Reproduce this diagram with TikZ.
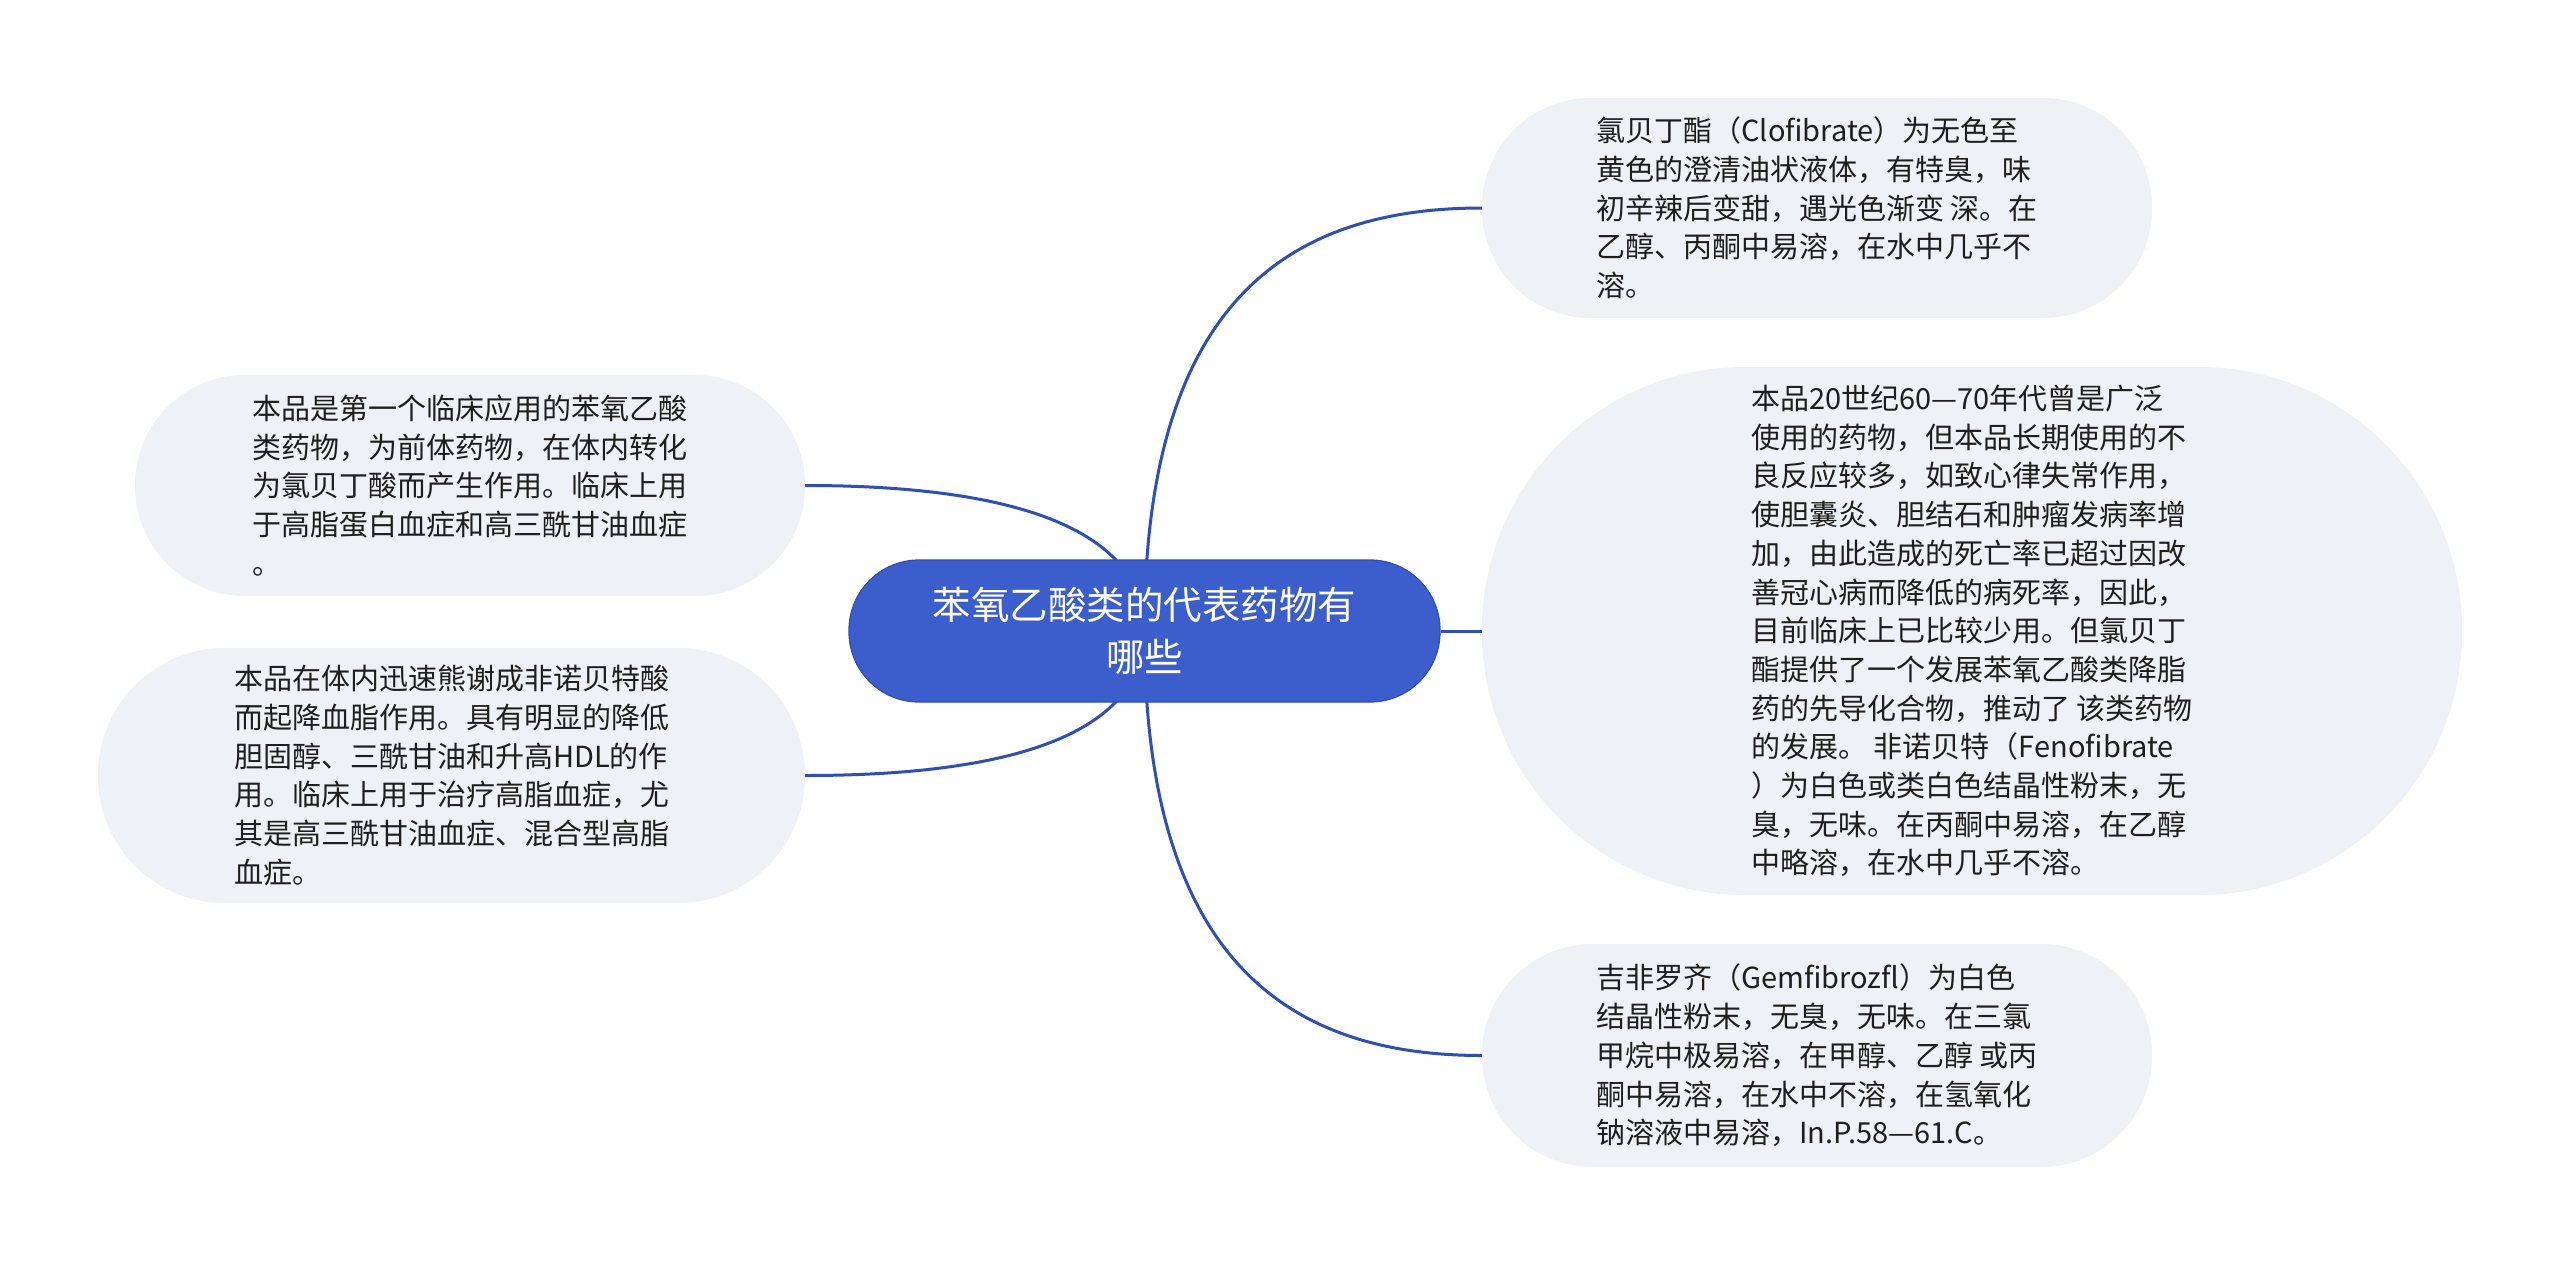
\documentclass[tikz,border=0pt]{standalone}
\usepackage{fontspec}
\newfontfamily\cjkfont{Noto Sans CJK SC}
\pgfdeclarelayer{bg}
\pgfdeclarelayer{lines}
\pgfsetlayers{bg,lines,main}
\definecolor{rootfill}{HTML}{3B5ECC}
\definecolor{rootdraw}{HTML}{2F4DB5}
\definecolor{linkcol}{HTML}{2F4FB3}
\definecolor{leaffill}{HTML}{EEF1F5}
\definecolor{leaftext}{HTML}{1E1E1E}
\begin{document}
\begin{tikzpicture}[x=1pt,y=-1pt,
  rootbox/.style={draw=rootdraw, line width=1.2pt, fill=rootfill, text=white,
    rounded corners=70pt, minimum width=591pt, minimum height=142pt,
    align=center, inner sep=0pt, font=\cjkfont\fontsize{38.5}{52}\selectfont},
  leafbox/.style={fill=leaffill, text=leaftext, align=left, inner sep=0pt,
    font=\cjkfont\fontsize{29}{38.7}\selectfont},
  link/.style={draw=linkcol, line width=3pt}]
\useasboundingbox (0,0) rectangle (2560,1264);
\begin{pgfonlayer}{bg}
\fill[white] (0,0) rectangle (2560,1264);
\end{pgfonlayer}

\node[rootbox] (root) at (1144.5,631) {苯氧乙酸类的代表药物有\\哪些};

\node[leafbox, minimum width=670pt, minimum height=220pt, rounded corners=109pt] (r1) at (1817,208)
 {氯贝丁酯（Clofibrate）为无色至\\黄色的澄清油状液体，有特臭，味\\初辛辣后变甜，遇光色渐变 深。在\\乙醇、丙酮中易溶，在水中几乎不\\溶。};

\node[leafbox, minimum width=980pt, minimum height=528pt, rounded corners=263pt] (r2) at (1972,631)
 {本品20世纪60—70年代曾是广泛\\使用的药物，但本品长期使用的不\\良反应较多，如致心律失常作用，\\使胆囊炎、胆结石和肿瘤发病率增\\加，由此造成的死亡率已超过因改\\善冠心病而降低的病死率，因此，\\目前临床上已比较少用。但氯贝丁\\酯提供了一个发展苯氧乙酸类降脂\\药的先导化合物，推动了 该类药物\\的发展。 非诺贝特（Fenofibrate\\）为白色或类白色结晶性粉末，无\\臭，无味。在丙酮中易溶，在乙醇\\中略溶，在水中几乎不溶。};

\node[leafbox, minimum width=670pt, minimum height=223pt, rounded corners=111pt] (r3) at (1817,1055.5)
 {吉非罗齐（Gemfibrozfl）为白色\\结晶性粉末，无臭，无味。在三氯\\甲烷中极易溶，在甲醇、乙醇 或丙\\酮中易溶，在水中不溶，在氢氧化\\钠溶液中易溶，In.P.58—61.C。};

\node[leafbox, minimum width=670pt, minimum height=221pt, rounded corners=110pt] (l1) at (470,485.5)
 {本品是第一个临床应用的苯氧乙酸\\类药物，为前体药物，在体内转化\\为氯贝丁酸而产生作用。临床上用\\于高脂蛋白血症和高三酰甘油血症\\。};

\node[leafbox, minimum width=707pt, minimum height=255pt, rounded corners=127pt] (l2) at (451.5,775.5)
 {本品在体内迅速熊谢成非诺贝特酸\\而起降血脂作用。具有明显的降低\\胆固醇、三酰甘油和升高HDL的作\\用。临床上用于治疗高脂血症，尤\\其是高三酰甘油血症、混合型高脂\\血症。};

\begin{pgfonlayer}{lines}
\draw[link] (root.center) .. controls (1144,300) and (1290,208) .. (r1.west);
\draw[link] (root.center) .. controls (1144,962) and (1290,1055.5) .. (r3.west);
\draw[link] (root.east) -- (r2.west);
\draw[link] (root.center) .. controls (1144,540) and (1040,485.5) .. (l1.east);
\draw[link] (root.center) .. controls (1144,722) and (1040,775.5) .. (l2.east);
\end{pgfonlayer}
\end{tikzpicture}
\end{document}
